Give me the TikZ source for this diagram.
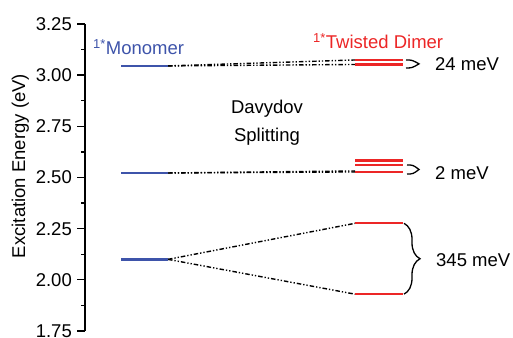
\documentclass[tikz,border=0pt]{standalone}
\usepackage{fontspec}
\setmainfont{Liberation Sans}
\usetikzlibrary{decorations.pathreplacing}
\definecolor{monoblue}{RGB}{62,84,170}
\definecolor{dimred}{RGB}{236,38,38}
\tikzset{
  monolevel/.style={line width=2.6pt, monoblue},
  dimlevel/.style={line width=2.1pt, dimred},
  link/.style={line width=1.4pt,
    dash pattern=on 4.5pt off 2pt on 1.3pt off 2pt on 1.3pt off 2pt},
  splitmark/.style={line width=1.3pt},
  label/.style={inner sep=0pt}
}

\begin{document}
\begin{tikzpicture}[x=1pt, y=204.7pt, font=\fontsize{18.5}{22}\selectfont]
    \useasboundingbox (0, 1.716) rectangle (513, 3.367);
    \draw[line width=1.4pt] (85, 1.75) -- (85, 3.25);
    \foreach \e/\t [count=\i] in {1.75/1.75, 2/2.00, 2.25/2.25, 2.5/2.50,
        2.75/2.75, 3/3.00, 3.25/3.25} {
      \draw[line width=1.3pt] (77, \e) -- (85, \e);
      \node[label, anchor=east] (tick\i) at (72, \e) {\t};
    }
    \foreach \e in {1.875, 2.125, 2.375, 2.625, 2.875, 3.125}
      \draw[line width=1.3pt] (81, \e) -- (85, \e);
    \node[label, anchor=base, rotate=90] (ylab) at (25, 2.556)
      {Excitation Energy (eV)};
    \node[label, anchor=base west, monoblue] (mono) at (93, 3.099)
      {\textsuperscript{1*}Monomer};
    \node[label, anchor=base west, dimred] (dimer) at (313, 3.131)
      {\textsuperscript{1*}Twisted Dimer};
    \node[label, anchor=base] (dav) at (267, 2.814) {Davydov};
    \node[label, anchor=base] (split) at (267, 2.678) {Splitting};
    \node[label, anchor=base west] (e24) at (435, 3.025) {24 meV};
    \node[label, anchor=base west] (e2) at (435, 2.490) {2 meV};
    \node[label, anchor=base west] (e345) at (436, 2.063) {345 meV};
    \coordinate (m1a) at (121, 3.045);
    \coordinate (m1b) at (168, 3.045);
    \coordinate (m2a) at (121, 2.522);
    \coordinate (m2b) at (168, 2.522);
    \coordinate (m3a) at (121, 2.100);
    \coordinate (m3b) at (168, 2.100);
    \coordinate (d1a) at (355, 3.052);
    \coordinate (d1b) at (403, 3.052);
    \coordinate (d1c) at (355, 3.074);
    \coordinate (d1d) at (403, 3.074);
    \coordinate (d2a) at (355, 2.527);
    \coordinate (d2b) at (403, 2.527);
    \coordinate (d2c) at (355, 2.561);
    \coordinate (d2d) at (403, 2.561);
    \coordinate (d2e) at (355, 2.583);
    \coordinate (d2f) at (403, 2.583);
    \coordinate (d3a) at (355, 2.276);
    \coordinate (d3b) at (403, 2.276);
    \coordinate (d3c) at (355, 1.930);
    \coordinate (d3d) at (403, 1.930);
    \draw[link] (m1b) -- (d1a);
    \draw[link] (m1b) -- (d1c);
    \draw[link] (m2b) -- (d2a);
    \draw[link] (m2b) -- ([yshift=1pt]d2a);
    \draw[link] (m3b) -- (d3a);
    \draw[link] (m3b) -- (d3c);
    \draw[monolevel] (m1a) -- (m1b);
    \draw[monolevel] (m2a) -- (m2b);
    \draw[monolevel] (m3a) -- (m3b);
    \draw[dimlevel] (d1a) -- (d1b);
    \draw[dimlevel] (d1c) -- (d1d);
    \draw[dimlevel] (d2a) -- (d2b);
    \draw[dimlevel] (d2c) -- (d2d);
    \draw[dimlevel] (d2e) -- (d2f);
    \draw[dimlevel] (d3a) -- (d3b);
    \draw[dimlevel] (d3c) -- (d3d);
    \draw[splitmark] (406, 3.074) .. controls (412, 3.074) .. (419, 3.055)
      .. controls (412, 3.035) .. (406, 3.035);
    \draw[splitmark] (407, 2.561) .. controls (413, 2.561) .. (419, 2.539)
      .. controls (413, 2.517) .. (407, 2.517);
    \draw[splitmark, decorate, decoration={brace, amplitude=16pt}]
      (404, 2.276) -- (404, 1.930);
  \end{tikzpicture}
\end{document}
